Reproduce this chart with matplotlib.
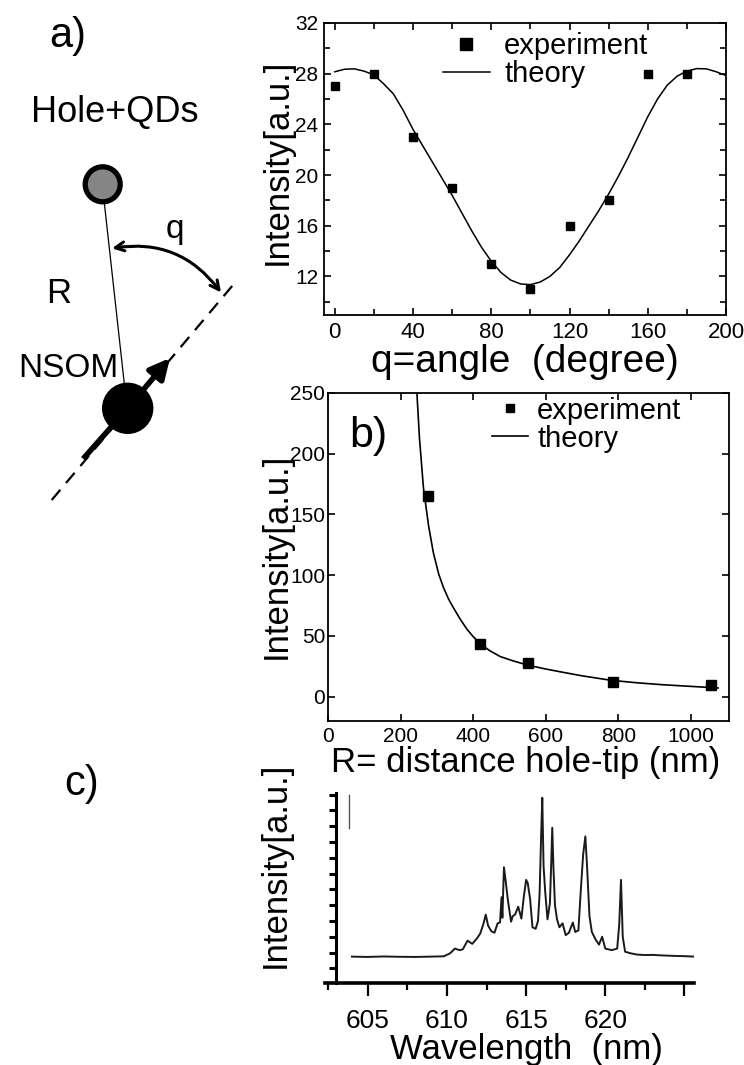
import matplotlib
matplotlib.use("Agg")
import matplotlib.pyplot as plt
from matplotlib.patches import Circle, FancyArrowPatch
from matplotlib.ticker import MultipleLocator

plt.rcParams['font.family'] = ['Liberation Sans', 'DejaVu Sans']

# ---------------- data ----------------
# panel a: intensity vs angle
angle_exp = [0, 20, 40, 60, 80, 100, 120, 140, 160, 180]
intens_angle_exp = [27, 28, 23, 19, 13, 11, 16, 18, 28, 28]
angle_theory = [0, 5, 10, 15, 20, 25, 30, 35, 40, 45, 50, 55, 60, 65, 70, 75, 80,
                85, 90, 95, 100, 105, 110, 115, 120, 125, 130, 135, 140, 145, 150,
                155, 160, 165, 170, 175, 180, 185, 190, 195, 200]
intens_angle_theory = [28.15, 28.35, 28.38, 28.2, 27.9, 27.2, 26.4, 25.1, 23.6, 22.3,
                       21.0, 19.7, 18.4, 17.0, 15.6, 14.3, 13.2, 12.3, 11.7, 11.4,
                       11.35, 11.55, 12.0, 12.7, 13.7, 14.8, 16.0, 17.2, 18.5, 19.9,
                       21.4, 23.0, 24.6, 26.0, 27.1, 27.8, 28.2, 28.4, 28.38, 28.15, 27.85]

# panel b: intensity vs distance
dist_exp = [275, 420, 550, 785, 1055]
intens_dist_exp = [165, 43, 28, 12, 10]
dist_theory = [240, 245, 252, 263, 277, 290, 305, 318, 332, 346, 365, 383, 400, 420,
               445, 475, 510, 550, 600, 640, 700, 780, 850, 920, 1000, 1075]
intens_dist_theory = [275, 250, 213, 172, 141, 119, 101, 90, 80.5, 73, 63.5, 55.5, 49.5,
                      43.5, 38, 33, 29.5, 26, 22.8, 20.5, 17.2, 13.5, 11.5, 9.9, 8.5, 7.2]

# panel c: spectrum
wavelength = [604.0, 605.0, 606.0, 607.0, 608.0, 609.0, 609.8, 610.2, 610.5, 610.8,
              611.0, 611.3, 611.6, 611.9, 612.1, 612.3, 612.45, 612.6, 612.8, 613.0,
              613.2, 613.35, 613.45, 613.5, 613.6, 613.7, 613.85, 614.05, 614.15, 614.3,
              614.5, 614.7, 614.85, 615.0, 615.1, 615.25, 615.4, 615.6, 615.75, 615.85,
              615.95, 616.02, 616.1, 616.2, 616.35, 616.5, 616.58, 616.65, 616.72, 616.82,
              616.95, 617.1, 617.3, 617.5, 617.7, 617.95, 618.1, 618.3, 618.45, 618.6,
              618.74, 618.85, 619.0, 619.15, 619.4, 619.6, 619.8, 620.0, 620.4, 620.75,
              620.88, 620.99, 621.1, 621.25, 621.6, 622.0, 622.5, 623.0, 623.5, 624.0,
              624.5, 625.0, 625.6]
spectrum = [1.74, 1.72, 1.75, 1.73, 1.72, 1.74, 1.76, 1.95, 2.25, 2.15,
            2.2, 2.75, 2.55, 2.9, 3.2, 3.8, 4.4, 3.7, 3.35, 3.25,
            3.85, 3.9, 5.5, 4.2, 7.4, 6.6, 5.3, 3.95, 4.3, 4.4,
            4.9, 4.15, 5.5, 6.6, 6.4, 5.4, 3.6, 3.5, 4.0, 5.7,
            9.5, 11.8, 7.5, 5.9, 4.1, 5.1, 7.5, 9.9, 7.5, 5.0,
            4.1, 3.6, 3.85, 3.1, 3.25, 3.9, 3.3, 3.4, 5.9, 8.2,
            9.35, 7.4, 4.3, 3.3, 2.8, 2.5, 3.0, 2.25, 2.15, 2.25,
            3.8, 6.6, 3.0, 2.05, 1.95, 1.87, 1.84, 1.85, 1.82, 1.8,
            1.78, 1.77, 1.74]
wl_ticks = [605, 610, 615, 620, 625]
wl_ticklabels = ['605', '610', '615', '620', '']

W, H = 744, 1065
fig = plt.figure(figsize=(W / 100, H / 100), dpi=100)

# ---------------- schematic (pixel coordinates) ----------------
sk = fig.add_axes([0, 0, 1, 1])
sk.set_xlim(0, W)
sk.set_ylim(H, 0)
sk.axis('off')

sk.text(68, 47, 'a)', fontsize=30, ha='center', va='baseline')
sk.text(115, 122, 'Hole+QDs', fontsize=26, ha='center', va='baseline')
sk.text(59, 303, 'R', fontsize=25, ha='center', va='baseline')
sk.text(68, 377, 'NSOM', fontsize=24, ha='center', va='baseline')
sk.text(175, 238, 'q', fontsize=24, ha='center', va='baseline')
sk.text(82, 795, 'c)', fontsize=30, ha='center', va='baseline')

# dashed dipole axis
sk.plot([51.7, 233], [500, 285], color='black', lw=1.6, ls=(0, (6, 4)))
# thin line hole -> tip
sk.plot([104, 125], [200, 390], color='black', lw=0.9)
# hole circle
sk.add_patch(Circle((102.7, 184.3), 17.5, facecolor='#858585', edgecolor='black', lw=3.8))
# tip circle
sk.add_patch(Circle((127.7, 408.3), 25, facecolor='black', edgecolor='black'))
# thick dipole arrow
sk.plot([85, 128], [456.7, 408], color='black', lw=4)
sk.add_patch(FancyArrowPatch((128, 408), (170, 358), arrowstyle='-|>', mutation_scale=30,
                             color='black', lw=4, shrinkA=0, shrinkB=0))
# angle arc
sk.add_patch(FancyArrowPatch((112, 248.3), (221, 292.5), arrowstyle='<->', mutation_scale=16,
                             connectionstyle='arc3,rad=-0.3', color='black', lw=2.2,
                             shrinkA=0, shrinkB=0))

# ---------------- panel a ----------------
axa = fig.add_axes([324 / W, 1 - 315 / H, 402 / W, 292 / H])
axa.plot(angle_exp, intens_angle_exp, 's', color='black', ms=6.3, label='experiment', zorder=3)
axa.plot(angle_theory, intens_angle_theory, '-', color='black', lw=1.1, label='theory')
axa.set_xlim(-5.5, 200)
axa.set_ylim(8.95, 32)
axa.xaxis.set_major_locator(MultipleLocator(40))
axa.xaxis.set_minor_locator(MultipleLocator(20))
axa.yaxis.set_major_locator(MultipleLocator(4))
axa.yaxis.set_minor_locator(MultipleLocator(2))
axa.yaxis.set_ticks([12, 16, 20, 24, 28, 32])
axa.tick_params(which='both', direction='in', top=True, right=True, width=1.2)
axa.tick_params(which='major', length=5)
axa.tick_params(which='minor', length=4)
axa.tick_params(axis='x', pad=5, labelsize=16)
axa.tick_params(axis='y', pad=4, labelsize=15)
for s in axa.spines.values():
    s.set_linewidth(1.3)
axa.set_xlabel('q=angle  (degree)', fontsize=28)
axa.xaxis.set_label_coords(0.5, -0.1)
axa.set_ylabel('Intensity[a.u.]', fontsize=25)
axa.yaxis.set_label_coords(-0.075, 0.526)
axa.legend(loc='upper left', bbox_to_anchor=(0.296, 0.969), frameon=False, fontsize=21,
           handlelength=1.6, handletextpad=0.5, labelspacing=0.0, borderpad=0,
           borderaxespad=0, markerscale=1.4)

# ---------------- panel b ----------------
axb = fig.add_axes([328 / W, 1 - 721 / H, 401 / W, 328 / H])
axb.plot(dist_exp, intens_dist_exp, 's', color='black', ms=7, label='experiment', zorder=3)
axb.plot(dist_theory, intens_dist_theory, '-', color='black', lw=1.2, label='theory')
axb.set_xlim(0, 1105)
axb.set_ylim(-20, 250)
axb.xaxis.set_major_locator(MultipleLocator(200))
axb.yaxis.set_major_locator(MultipleLocator(50))
axb.tick_params(which='both', direction='in', top=True, right=True, labelsize=15,
                width=1.2, length=5)
axb.tick_params(axis='x', pad=4)
axb.tick_params(axis='y', pad=2)
for s in axb.spines.values():
    s.set_linewidth(1.3)
axb.set_xlabel('R= distance hole-tip (nm)', fontsize=25)
axb.xaxis.set_label_coords(0.494, -0.076)
axb.set_ylabel('Intensity[a.u.]', fontsize=25)
axb.yaxis.set_label_coords(-0.087, 0.503)
axb.text(0.1, 0.87, 'b)', transform=axb.transAxes, fontsize=31, ha='center', va='center')
axb.legend(loc='upper left', bbox_to_anchor=(0.409, 0.989), frameon=False, fontsize=21,
           handlelength=1.25, handletextpad=0.3, labelspacing=0.0, borderpad=0,
           borderaxespad=0, markerscale=0.75)

# ---------------- panel c ----------------
axc = fig.add_axes([325 / W, 1 - 983 / H, 369 / W, 190 / H])
axc.plot(wavelength, spectrum, '-', color='#1a1a1a', lw=1.4)
axc.plot([603.8, 603.8], [9.9, 12.0], '-', color='#555555', lw=1.0)
axc.set_xlim(602.3, 625.6)
axc.set_ylim(0.07, 12.1)
axc.spines['top'].set_visible(False)
axc.spines['right'].set_visible(False)
axc.spines['left'].set_position(('data', 603.0))
axc.spines['left'].set_bounds(0.07, 12.1)
axc.spines['left'].set_linewidth(2.2)
axc.spines['bottom'].set_linewidth(2.6)
axc.set_xticks(wl_ticks)
axc.set_xticklabels(wl_ticklabels)
axc.xaxis.set_minor_locator(MultipleLocator(2.5))
axc.yaxis.set_major_locator(MultipleLocator(1))
axc.set_yticklabels([])
axc.tick_params(axis='x', which='major', direction='out', length=9, width=1.6,
                labelsize=19, pad=10)
axc.tick_params(axis='x', which='minor', direction='out', length=5, width=1.6)
axc.tick_params(axis='y', which='major', direction='out', length=5, width=2.2)
axc.set_xlabel('Wavelength  (nm)', fontsize=25)
axc.xaxis.set_label_coords(0.545, -0.265)
axc.set_ylabel('Intensity[a.u.]', fontsize=25)
axc.yaxis.set_label_coords(-0.089, 0.62)

fig.savefig('out.png', dpi=100)
